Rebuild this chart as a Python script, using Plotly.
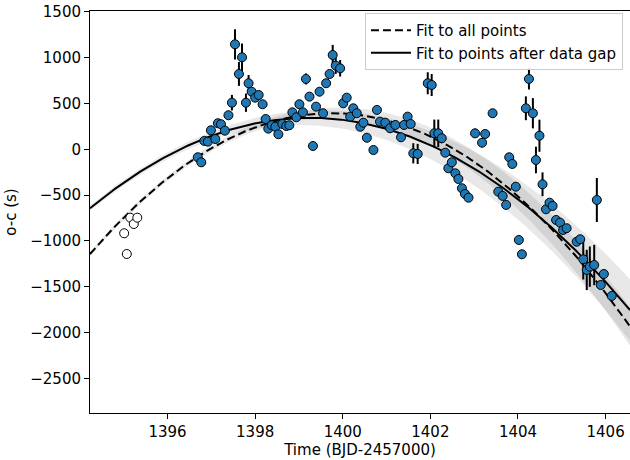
import numpy as np
import plotly.graph_objects as go

# ---- data ----
open_t = [1395.01, 1395.07, 1395.15, 1395.23, 1395.31]
open_oc = [-916, -1142, -746, -815, -746]

time_pts = [1396.69, 1396.77, 1396.84, 1396.92, 1396.99, 1397.09, 1397.15, 1397.22, 1397.31, 1397.39,
            1397.47, 1397.54, 1397.63, 1397.70, 1397.79, 1397.85, 1397.92, 1398.00, 1398.08, 1398.17,
            1398.24, 1398.30, 1398.38, 1398.46, 1398.53, 1398.62, 1398.71, 1398.78, 1398.85, 1398.94,
            1399.01, 1399.09, 1399.16, 1399.24, 1399.32, 1399.39, 1399.47, 1399.55, 1399.62, 1399.70,
            1399.77, 1399.84, 1399.94, 1400.01, 1400.09, 1400.17, 1400.24, 1400.32, 1400.40, 1400.47,
            1400.55, 1400.70, 1400.78, 1400.85, 1400.97, 1401.08, 1401.20, 1401.33, 1401.40, 1401.48,
            1401.55, 1401.61, 1401.71, 1401.94, 1402.03, 1402.09, 1402.18, 1402.26, 1402.34, 1402.41,
            1402.49, 1402.57, 1402.64, 1402.72, 1402.79, 1402.87, 1403.02, 1403.18, 1403.25, 1403.42,
            1403.55, 1403.65, 1403.73, 1403.80, 1403.87, 1403.95, 1404.02, 1404.09, 1404.18, 1404.25,
            1404.34, 1404.41, 1404.49, 1404.56, 1404.64, 1404.72, 1404.79, 1404.87, 1404.96, 1405.03,
            1405.11, 1405.34, 1405.42, 1405.49, 1405.57, 1405.64, 1405.74, 1405.80, 1405.89, 1405.96,
            1406.14]
oc_pts = [-87, -142, 91, 83, 207, 112, 284, 273, 203, 371,
          508, 1145, 821, 1003, 508, 720, 628, 563, 592, 491,
          330, 225, 262, 246, 164, 276, 254, 262, 403, 349,
          491, 403, 767, 574, 36, 465, 628, 393, 720, 821,
          1028, 912, 883, 502, 563, 356, 447, 393, 246, 290,
          126, -8, 429, 301, 290, 229, 265, 131, 265, 356,
          276, -44, -51, 720, 701, 174, 174, 120, -37, -207,
          -142, -262, -324, -425, -487, -528, 174, 72, 167, 393,
          -462, -509, -607, -87, -160, -408, -989, -1145, 447, 767,
          393, -117, 148, -382, -654, -582, -618, -771, -800, -880,
          -861, -1008, -981, -1200, -1316, -1280, -1262, -553, -1480, -1360,
          -1600]
err_pts = [40, 40, 40, 40, 40, 40, 40, 40, 40, 40,
           85, 165, 130, 150, 100, 90, 40, 40, 40, 40,
           40, 40, 40, 40, 40, 40, 40, 40, 40, 40,
           40, 40, 60, 40, 40, 40, 40, 40, 40, 40,
           110, 90, 90, 40, 40, 40, 40, 40, 40, 40,
           40, 40, 40, 40, 40, 40, 40, 40, 40, 40,
           40, 110, 110, 120, 120, 150, 150, 40, 40, 40,
           40, 40, 40, 40, 40, 40, 50, 50, 40, 40,
           40, 40, 40, 40, 40, 40, 40, 40, 130, 115,
           165, 145, 175, 130, 40, 40, 40, 40, 40, 40,
           40, 40, 40, 220, 220, 220, 220, 240, 40, 40,
           40]

# quadratic fit coefficients: oc = A + B*(t-1400) + C*(t-1400)^2
fit_all = [390.5, -24.6, -50.3]
fit_gap = [320.7, -59.2, -39.21]
# band half-width parameters: h = h0 + h2*(t - t_ref)^2
band_all = [25.0, 1.2, 1394.2]
band_gap = [30.0, 2.0, 1394.2]

x_range = [1394.23, 1406.557]
y_range = [-2876, 1508]
x_ticks = [1396, 1398, 1400, 1402, 1404, 1406]
y_ticks = [1500, 1000, 500, 0, -500, -1000, -1500, -2000, -2500]
y_ticklabels = ["1500", "1000", "500", "0", "\u2212500", "\u22121000", "\u22121500", "\u22122000", "\u22122500"]

tt = np.linspace(x_range[0], x_range[1], 300)


def quad(c, t):
    u = t - 1400.0
    return c[0] + c[1] * u + c[2] * u * u


def halfw(b, t):
    return b[0] + b[1] * (t - b[2]) ** 2


fig = go.Figure()

band_color = "rgba(0,0,0,0.09)"
for c, b in ((fit_all, band_all), (fit_gap, band_gap)):
    ym = quad(c, tt)
    h = halfw(b, tt)
    fig.add_trace(go.Scatter(
        x=np.concatenate([tt, tt[::-1]]),
        y=np.concatenate([ym + h, (ym - h)[::-1]]),
        fill="toself", fillcolor=band_color, line=dict(width=0),
        mode="lines", showlegend=False, hoverinfo="skip"))

fig.add_trace(go.Scatter(x=tt, y=quad(fit_all, tt), mode="lines",
                         line=dict(color="black", width=2, dash="8px,4px"),
                         name="Fit to all points"))
fig.add_trace(go.Scatter(x=tt, y=quad(fit_gap, tt), mode="lines",
                         line=dict(color="black", width=2),
                         name="Fit to points after data gap"))

fig.add_trace(go.Scatter(x=open_t, y=open_oc, mode="markers",
                         marker=dict(size=9, color="white", line=dict(color="black", width=1)),
                         showlegend=False))

fig.add_trace(go.Scatter(x=time_pts, y=oc_pts, mode="markers",
                         error_y=dict(type="data", array=err_pts, color="black", thickness=2, width=0),
                         marker=dict(size=9, color="#1f77b4", line=dict(color="black", width=1)),
                         showlegend=False))

font = "DejaVu Sans, sans-serif"
fig.update_layout(
    width=630, height=460,
    margin=dict(l=90, r=0, t=11, b=47, autoexpand=False),
    paper_bgcolor="white", plot_bgcolor="white",
    font=dict(family=font, size=15, color="black"),
    legend=dict(x=0.987, y=0.995, xanchor="right", yanchor="top",
                bgcolor="rgba(255,255,255,0.8)", bordercolor="#cccccc", borderwidth=1,
                font=dict(family=font, size=15, color="black"), itemwidth=40),
    xaxis=dict(range=x_range, tickvals=x_ticks, ticks="outside", ticklen=5, tickwidth=1,
               tickcolor="black", showline=True, linecolor="black", linewidth=1, mirror=True,
               showgrid=False, zeroline=False, automargin=False,
               tickfont=dict(family=font, size=15, color="black"),
               title=dict(text="Time (BJD-2457000)", standoff=2,
                          font=dict(family=font, size=15, color="black"))),
    yaxis=dict(range=y_range, tickvals=y_ticks, ticktext=y_ticklabels, ticks="outside", ticklen=5,
               tickwidth=1, tickcolor="black", showline=True, linecolor="black", linewidth=1,
               mirror=False, showgrid=False, zeroline=False, automargin=False,
               tickfont=dict(family=font, size=15, color="black"),
               title=dict(text="o-c (s)", standoff=10,
                          font=dict(family=font, size=15, color="black"))),
)

fig.write_html("out.html", config={"displayModeBar": False},
               post_script="document.body.style.margin='0';document.body.style.padding='0';")
